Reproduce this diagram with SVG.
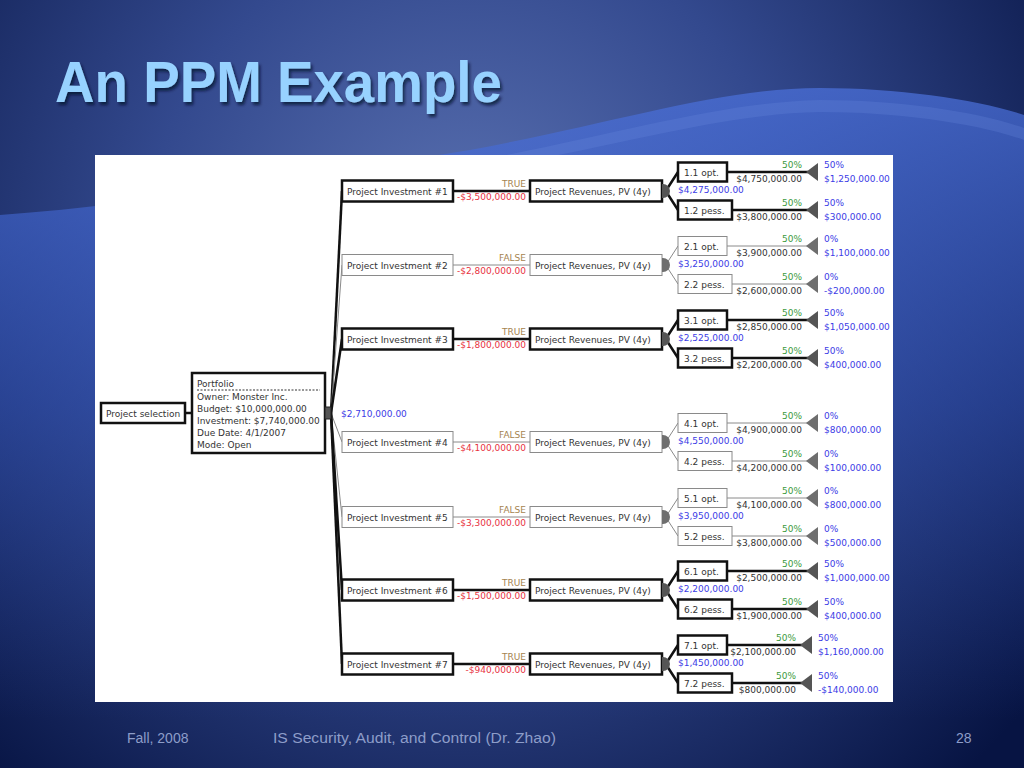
<svg xmlns="http://www.w3.org/2000/svg" width="1024" height="768" viewBox="0 0 1024 768">
<defs>
<radialGradient id="bg" cx="470" cy="250" r="720" gradientUnits="userSpaceOnUse">
<stop offset="0" stop-color="#5b72b2"/>
<stop offset="0.45" stop-color="#33498e"/>
<stop offset="1" stop-color="#071443"/>
</radialGradient>
<linearGradient id="wave" x1="0" y1="90" x2="0" y2="720" gradientUnits="userSpaceOnUse">
<stop offset="0" stop-color="#4a6fd8" stop-opacity="0.75"/>
<stop offset="0.5" stop-color="#3457c0" stop-opacity="0.45"/>
<stop offset="1" stop-color="#2a48a8" stop-opacity="0"/>
</linearGradient>
<filter id="sh" x="-5%" y="-20%" width="110%" height="140%">
<feDropShadow dx="2" dy="3" stdDeviation="1.5" flood-color="#050a25" flood-opacity="0.7"/>
</filter>
<style>
.t{font-family:"DejaVu Sans",Verdana,sans-serif;font-size:9px;fill:#333}
.e{text-anchor:end}
.bt{fill:#fff;stroke:#111;stroke-width:2.5}
.bf{fill:#fff;stroke:#8a8a8a;stroke-width:1}
.lt{fill:none;stroke:#111;stroke-width:2.5}
.lf{fill:none;stroke:#8a8a8a;stroke-width:1}
.tf{fill:#a58350}
.neg{fill:#e8333f}
.blue{fill:#3c3ce6}
.green{fill:#3c9a3c}
.ch{fill:#555}
.chf{fill:#6e6e6e}
.foot{font-family:"Liberation Sans",Arial,sans-serif;font-size:14px;fill:#8d9dc9}
</style>
</defs>
<rect x="0" y="0" width="1024" height="768" fill="url(#bg)"/>
<path d="M0,215 C150,205 330,172 470,150 C620,122 720,88 820,88 C900,88 980,100 1024,115 L1024,768 L0,768 Z" fill="url(#wave)"/>
<path d="M470,162 C620,134 720,102 820,100 C900,100 980,112 1024,128 L1024,140 C980,124 900,112 820,112 C720,114 620,146 470,172 Z" fill="#6d8ae0" opacity="0.25"/>
<text x="55" y="102" font-family="'Liberation Sans',Arial,sans-serif" font-size="57" font-weight="bold" fill="#97d2ff" textLength="447" lengthAdjust="spacingAndGlyphs" filter="url(#sh)">An PPM Example</text>
<rect x="95" y="155" width="798" height="547" fill="#fff"/>

<g id="connectors">
<line class="lt" x1="185" y1="413" x2="192" y2="413"/>
<path class="lt" d="M331,413 L342,191"/>
<path class="lf" d="M331,413 L342,265"/>
<path class="lt" d="M331,413 L342,339"/>
<path class="lf" d="M331,413 L342,442"/>
<path class="lf" d="M331,413 L342,517"/>
<path class="lt" d="M331,413 L342,590"/>
<path class="lt" d="M331,413 L342,664"/>
<line class="lt" x1="453" y1="191" x2="530" y2="191"/>
<line class="lf" x1="453" y1="265" x2="530" y2="265"/>
<line class="lt" x1="453" y1="339" x2="530" y2="339"/>
<line class="lf" x1="453" y1="442" x2="530" y2="442"/>
<line class="lf" x1="453" y1="517" x2="530" y2="517"/>
<line class="lt" x1="453" y1="590" x2="530" y2="590"/>
<line class="lt" x1="453" y1="664" x2="530" y2="664"/>
<path class="lt" d="M667,189 L678,172 M667,193 L678,210"/>
<path class="lf" d="M667,263 L678,246 M667,267 L678,284"/>
<path class="lt" d="M667,337 L678,320 M667,341 L678,358"/>
<path class="lf" d="M667,440 L678,423 M667,444 L678,461"/>
<path class="lf" d="M667,515 L678,498 M667,519 L678,536"/>
<path class="lt" d="M667,588 L678,571 M667,592 L678,609"/>
<path class="lt" d="M667,662 L678,645 M667,666 L678,683"/>
<line class="lt" x1="727" y1="172" x2="808" y2="172"/>
<line class="lt" x1="732" y1="210" x2="808" y2="210"/>
<line class="lf" x1="727" y1="246" x2="808" y2="246"/>
<line class="lf" x1="732" y1="284" x2="808" y2="284"/>
<line class="lt" x1="727" y1="320" x2="808" y2="320"/>
<line class="lt" x1="732" y1="358" x2="808" y2="358"/>
<line class="lf" x1="727" y1="423" x2="808" y2="423"/>
<line class="lf" x1="732" y1="461" x2="808" y2="461"/>
<line class="lf" x1="727" y1="498" x2="808" y2="498"/>
<line class="lf" x1="732" y1="536" x2="808" y2="536"/>
<line class="lt" x1="727" y1="571" x2="808" y2="571"/>
<line class="lt" x1="732" y1="609" x2="808" y2="609"/>
<line class="lt" x1="727" y1="645" x2="802" y2="645"/>
<line class="lt" x1="732" y1="683" x2="802" y2="683"/>
<g class="t">
<text class="tf e" x="526" y="187">TRUE</text><text class="neg e" x="526" y="200">-$3,500,000.00</text>
<text class="tf e" x="526" y="261">FALSE</text><text class="neg e" x="526" y="274">-$2,800,000.00</text>
<text class="tf e" x="526" y="335">TRUE</text><text class="neg e" x="526" y="348">-$1,800,000.00</text>
<text class="tf e" x="526" y="438">FALSE</text><text class="neg e" x="526" y="451">-$4,100,000.00</text>
<text class="tf e" x="526" y="513">FALSE</text><text class="neg e" x="526" y="526">-$3,300,000.00</text>
<text class="tf e" x="526" y="586">TRUE</text><text class="neg e" x="526" y="599">-$1,500,000.00</text>
<text class="tf e" x="526" y="660">TRUE</text><text class="neg e" x="526" y="673">-$940,000.00</text>
<text class="green e" x="802" y="168">50%</text><text class="e" x="802" y="182">$4,750,000.00</text>
<text class="green e" x="802" y="206">50%</text><text class="e" x="802" y="220">$3,800,000.00</text>
<text class="green e" x="802" y="242">50%</text><text class="e" x="802" y="256">$3,900,000.00</text>
<text class="green e" x="802" y="280">50%</text><text class="e" x="802" y="294">$2,600,000.00</text>
<text class="green e" x="802" y="316">50%</text><text class="e" x="802" y="330">$2,850,000.00</text>
<text class="green e" x="802" y="354">50%</text><text class="e" x="802" y="368">$2,200,000.00</text>
<text class="green e" x="802" y="419">50%</text><text class="e" x="802" y="433">$4,900,000.00</text>
<text class="green e" x="802" y="457">50%</text><text class="e" x="802" y="471">$4,200,000.00</text>
<text class="green e" x="802" y="494">50%</text><text class="e" x="802" y="508">$4,100,000.00</text>
<text class="green e" x="802" y="532">50%</text><text class="e" x="802" y="546">$3,800,000.00</text>
<text class="green e" x="802" y="567">50%</text><text class="e" x="802" y="581">$2,500,000.00</text>
<text class="green e" x="802" y="605">50%</text><text class="e" x="802" y="619">$1,900,000.00</text>
<text class="green e" x="796" y="641">50%</text><text class="e" x="796" y="655">$2,100,000.00</text>
<text class="green e" x="796" y="679">50%</text><text class="e" x="796" y="693">$800,000.00</text>
</g>
</g>

<g id="project-selection">
<rect class="bt" x="101" y="403" width="84" height="20"/>
<text class="t" x="106" y="416.5">Project selection</text>
</g>

<g id="portfolio">
<rect class="bt" x="192" y="373" width="133" height="80"/>
<line x1="197" y1="390" x2="320" y2="390" stroke="#333" stroke-width="1" stroke-dasharray="2,1.5"/>
<text class="t" x="197" y="387">Portfolio</text>
<text class="t" x="197" y="400">Owner: Monster Inc.</text>
<text class="t" x="197" y="412">Budget: $10,000,000.00</text>
<text class="t" x="197" y="424">Investment: $7,740,000.00</text>
<text class="t" x="197" y="436">Due Date: 4/1/2007</text>
<text class="t" x="197" y="448">Mode: Open</text>
<rect x="325" y="407" width="6" height="12" fill="#555" stroke="#222" stroke-width="1"/>
<text class="t blue" x="341" y="417">$2,710,000.00</text>
</g>

<g id="pi1"><rect class="bt" x="342" y="180.5" width="111" height="21"/><text class="t" x="347" y="194.5">Project Investment #1</text></g>
<g id="pi2"><rect class="bf" x="342" y="254.5" width="111" height="21"/><text class="t" x="347" y="268.5">Project Investment #2</text></g>
<g id="pi3"><rect class="bt" x="342" y="328.5" width="111" height="21"/><text class="t" x="347" y="342.5">Project Investment #3</text></g>
<g id="pi4"><rect class="bf" x="342" y="431.5" width="111" height="21"/><text class="t" x="347" y="445.5">Project Investment #4</text></g>
<g id="pi5"><rect class="bf" x="342" y="506.5" width="111" height="21"/><text class="t" x="347" y="520.5">Project Investment #5</text></g>
<g id="pi6"><rect class="bt" x="342" y="579.5" width="111" height="21"/><text class="t" x="347" y="593.5">Project Investment #6</text></g>
<g id="pi7"><rect class="bt" x="342" y="653.5" width="111" height="21"/><text class="t" x="347" y="667.5">Project Investment #7</text></g>

<g id="rev1"><rect class="bt" x="530" y="180.5" width="132" height="21"/><text class="t" x="535" y="194.5">Project Revenues, PV (4y)</text><path class="ch" d="M662,184 h1 a7,7 0 0 1 0,14 h-1 z"/><text class="t blue" x="678" y="193">$4,275,000.00</text></g>
<g id="rev2"><rect class="bf" x="530" y="254.5" width="132" height="21"/><text class="t" x="535" y="268.5">Project Revenues, PV (4y)</text><path class="chf" d="M662,258 h1 a7,7 0 0 1 0,14 h-1 z"/><text class="t blue" x="678" y="267">$3,250,000.00</text></g>
<g id="rev3"><rect class="bt" x="530" y="328.5" width="132" height="21"/><text class="t" x="535" y="342.5">Project Revenues, PV (4y)</text><path class="ch" d="M662,332 h1 a7,7 0 0 1 0,14 h-1 z"/><text class="t blue" x="678" y="341">$2,525,000.00</text></g>
<g id="rev4"><rect class="bf" x="530" y="431.5" width="132" height="21"/><text class="t" x="535" y="445.5">Project Revenues, PV (4y)</text><path class="chf" d="M662,435 h1 a7,7 0 0 1 0,14 h-1 z"/><text class="t blue" x="678" y="444">$4,550,000.00</text></g>
<g id="rev5"><rect class="bf" x="530" y="506.5" width="132" height="21"/><text class="t" x="535" y="520.5">Project Revenues, PV (4y)</text><path class="chf" d="M662,510 h1 a7,7 0 0 1 0,14 h-1 z"/><text class="t blue" x="678" y="519">$3,950,000.00</text></g>
<g id="rev6"><rect class="bt" x="530" y="579.5" width="132" height="21"/><text class="t" x="535" y="593.5">Project Revenues, PV (4y)</text><path class="ch" d="M662,583 h1 a7,7 0 0 1 0,14 h-1 z"/><text class="t blue" x="678" y="592">$2,200,000.00</text></g>
<g id="rev7"><rect class="bt" x="530" y="653.5" width="132" height="21"/><text class="t" x="535" y="667.5">Project Revenues, PV (4y)</text><path class="ch" d="M662,657 h1 a7,7 0 0 1 0,14 h-1 z"/><text class="t blue" x="678" y="666">$1,450,000.00</text></g>

<g id="o11"><rect class="bt" x="678" y="162.5" width="49" height="19"/><text class="t" x="684" y="175.5">1.1 opt.</text></g>
<g id="o12"><rect class="bt" x="678" y="200.5" width="54" height="19"/><text class="t" x="684" y="213.5">1.2 pess.</text></g>
<g id="o21"><rect class="bf" x="678" y="236.5" width="49" height="19"/><text class="t" x="684" y="249.5">2.1 opt.</text></g>
<g id="o22"><rect class="bf" x="678" y="274.5" width="54" height="19"/><text class="t" x="684" y="287.5">2.2 pess.</text></g>
<g id="o31"><rect class="bt" x="678" y="310.5" width="49" height="19"/><text class="t" x="684" y="323.5">3.1 opt.</text></g>
<g id="o32"><rect class="bt" x="678" y="348.5" width="54" height="19"/><text class="t" x="684" y="361.5">3.2 pess.</text></g>
<g id="o41"><rect class="bf" x="678" y="413.5" width="49" height="19"/><text class="t" x="684" y="426.5">4.1 opt.</text></g>
<g id="o42"><rect class="bf" x="678" y="451.5" width="54" height="19"/><text class="t" x="684" y="464.5">4.2 pess.</text></g>
<g id="o51"><rect class="bf" x="678" y="488.5" width="49" height="19"/><text class="t" x="684" y="501.5">5.1 opt.</text></g>
<g id="o52"><rect class="bf" x="678" y="526.5" width="54" height="19"/><text class="t" x="684" y="539.5">5.2 pess.</text></g>
<g id="o61"><rect class="bt" x="678" y="561.5" width="49" height="19"/><text class="t" x="684" y="574.5">6.1 opt.</text></g>
<g id="o62"><rect class="bt" x="678" y="599.5" width="54" height="19"/><text class="t" x="684" y="612.5">6.2 pess.</text></g>
<g id="o71"><rect class="bt" x="678" y="635.5" width="49" height="19"/><text class="t" x="684" y="648.5">7.1 opt.</text></g>
<g id="o72"><rect class="bt" x="678" y="673.5" width="54" height="19"/><text class="t" x="684" y="686.5">7.2 pess.</text></g>

<g id="e11"><path class="ch" d="M806,172 L818,163 L818,181 Z"/><text class="t blue" x="824" y="168">50%</text><text class="t blue" x="824" y="182">$1,250,000.00</text></g>
<g id="e12"><path class="ch" d="M806,210 L818,201 L818,219 Z"/><text class="t blue" x="824" y="206">50%</text><text class="t blue" x="824" y="220">$300,000.00</text></g>
<g id="e21"><path class="chf" d="M806,246 L818,237 L818,255 Z"/><text class="t blue" x="824" y="242">0%</text><text class="t blue" x="824" y="256">$1,100,000.00</text></g>
<g id="e22"><path class="chf" d="M806,284 L818,275 L818,293 Z"/><text class="t blue" x="824" y="280">0%</text><text class="t blue" x="824" y="294">-$200,000.00</text></g>
<g id="e31"><path class="ch" d="M806,320 L818,311 L818,329 Z"/><text class="t blue" x="824" y="316">50%</text><text class="t blue" x="824" y="330">$1,050,000.00</text></g>
<g id="e32"><path class="ch" d="M806,358 L818,349 L818,367 Z"/><text class="t blue" x="824" y="354">50%</text><text class="t blue" x="824" y="368">$400,000.00</text></g>
<g id="e41"><path class="chf" d="M806,423 L818,414 L818,432 Z"/><text class="t blue" x="824" y="419">0%</text><text class="t blue" x="824" y="433">$800,000.00</text></g>
<g id="e42"><path class="chf" d="M806,461 L818,452 L818,470 Z"/><text class="t blue" x="824" y="457">0%</text><text class="t blue" x="824" y="471">$100,000.00</text></g>
<g id="e51"><path class="chf" d="M806,498 L818,489 L818,507 Z"/><text class="t blue" x="824" y="494">0%</text><text class="t blue" x="824" y="508">$800,000.00</text></g>
<g id="e52"><path class="chf" d="M806,536 L818,527 L818,545 Z"/><text class="t blue" x="824" y="532">0%</text><text class="t blue" x="824" y="546">$500,000.00</text></g>
<g id="e61"><path class="ch" d="M806,571 L818,562 L818,580 Z"/><text class="t blue" x="824" y="567">50%</text><text class="t blue" x="824" y="581">$1,000,000.00</text></g>
<g id="e62"><path class="ch" d="M806,609 L818,600 L818,618 Z"/><text class="t blue" x="824" y="605">50%</text><text class="t blue" x="824" y="619">$400,000.00</text></g>
<g id="e71"><path class="ch" d="M800,645 L812,636 L812,654 Z"/><text class="t blue" x="818" y="641">50%</text><text class="t blue" x="818" y="655">$1,160,000.00</text></g>
<g id="e72"><path class="ch" d="M800,683 L812,674 L812,692 Z"/><text class="t blue" x="818" y="679">50%</text><text class="t blue" x="818" y="693">-$140,000.00</text></g>

<text class="foot" x="127" y="743">Fall, 2008</text>
<text class="foot" x="273" y="743" textLength="283" lengthAdjust="spacingAndGlyphs">IS Security, Audit, and Control (Dr. Zhao)</text>
<text class="foot" x="956" y="743">28</text>
</svg>
